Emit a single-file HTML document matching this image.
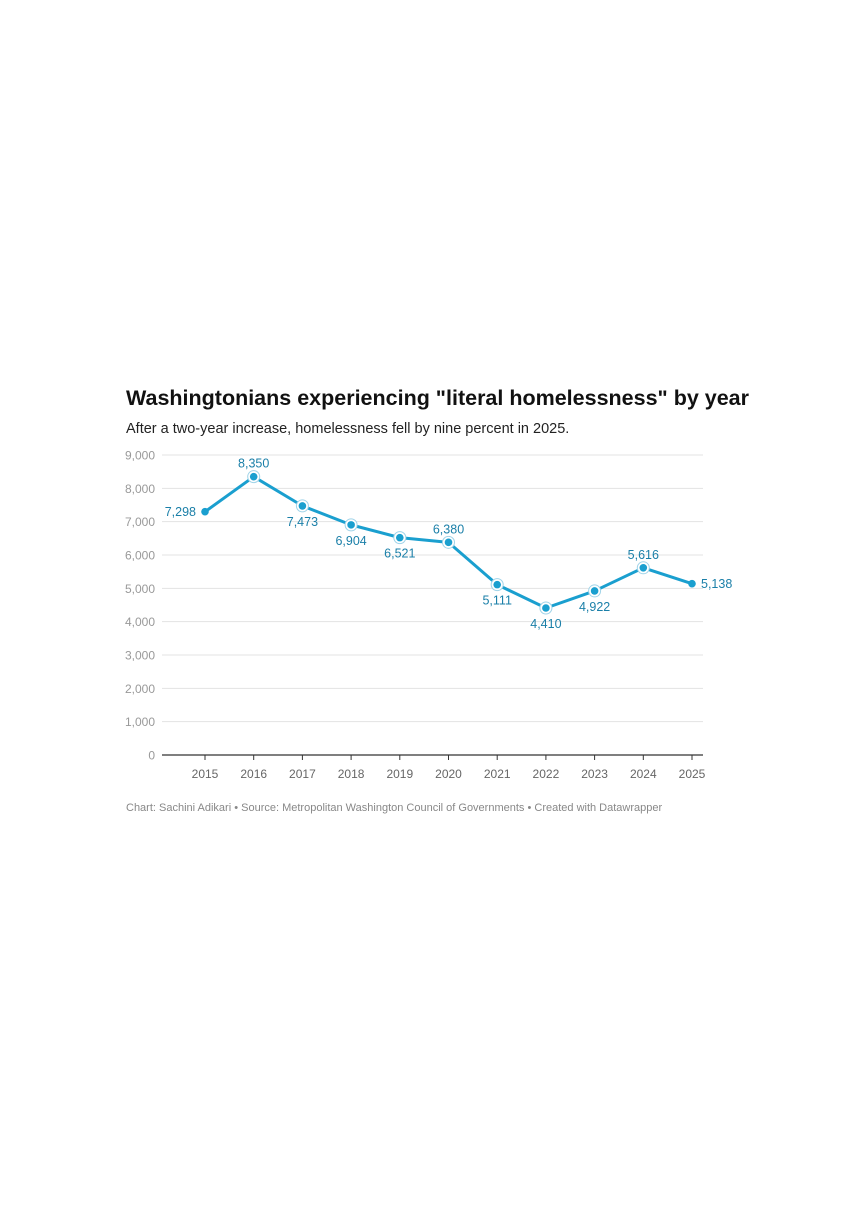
<!DOCTYPE html>
<html><head><meta charset="utf-8"><style>
body{margin:0;background:#fff;width:857px;height:1200px;overflow:hidden;font-family:"Liberation Sans",Roboto,sans-serif}
</style></head><body>
<svg width="857" height="1200">
<text x="126" y="405" font-size="21.5" font-weight="bold" fill="#111">Washingtonians experiencing "literal homelessness" by year</text>
<text x="126" y="433" font-size="14.5" fill="#222">After a two-year increase, homelessness fell by nine percent in 2025.</text>
<g id="grid"></g><g id="xaxis"></g><g id="series"></g>
<text x="126" y="811" font-size="11" fill="#888">Chart: Sachini Adikari • Source: Metropolitan Washington Council of Governments • Created with Datawrapper</text>
</svg>
<script>
const years=[2015,2016,2017,2018,2019,2020,2021,2022,2023,2024,2025];
const values=[7298,8350,7473,6904,6521,6380,5111,4410,4922,5616,5138];
const labelPos=["left","above","below","below","below","above","below","below","below","above","right"];
const yTicks=[0,1000,2000,3000,4000,5000,6000,7000,8000,9000];
const NS="http://www.w3.org/2000/svg";
const y=v=>755-v/9000*300;
const x=i=>205+i*(692-205)/(years.length-1);
function mk(t,a,p){const e=document.createElementNS(NS,t);for(const k in a)e.setAttribute(k,a[k]);p.appendChild(e);return e;}
const g=document.getElementById('grid');
yTicks.forEach(v=>{
 const l=mk('line',{x1:162,x2:703,y1:y(v),y2:y(v),stroke:v===0?'#333':'#e3e3e3','stroke-width':v===0?1.2:1},g);
 
 
 const t=mk('text',{x:155,y:y(v)+4.5,'text-anchor':'end','font-size':12,fill:'#999'},g);
 t.textContent=v.toLocaleString('en-US');
 
 
});
const xa=document.getElementById('xaxis');
years.forEach((yr,i)=>{
 mk('line',{x1:x(i),x2:x(i),y1:755,y2:760,stroke:'#333'},xa);
 const t=mk('text',{x:x(i),y:778,'text-anchor':'middle','font-size':12,fill:'#666'},xa);
 t.textContent=yr;
 
 
});
const s=document.getElementById('series');
const p=mk('polyline',{points:values.map((v,i)=>x(i)+','+y(v)).join(' '),fill:'none',stroke:'#1a9fcf','stroke-width':3,'stroke-linejoin':'round'},s);


values.forEach((v,i)=>{
 if(i>0&&i<values.length-1) mk('circle',{cx:x(i),cy:y(v),r:6,fill:'#fff',stroke:'#9fd3e8','stroke-width':1},s);
 const c=mk('circle',{cx:x(i),cy:y(v),r:3.8,fill:'#1a9fcf'},s);
 
 
 const pos=labelPos[i];let tx=x(i),ty=y(v)+4.5,an='middle';
 if(pos==='left'){tx=x(i)-9;an='end';}
 else if(pos==='right'){tx=x(i)+9;an='start';}
 else if(pos==='above'){ty=y(v)-9;}
 else {ty=y(v)+20;}
 const t=mk('text',{x:tx,y:ty,'text-anchor':an,'font-size':12.5,fill:'#1a7fa8'},s);
 t.textContent=v.toLocaleString('en-US');
 
 
});
</script>
</body></html>
